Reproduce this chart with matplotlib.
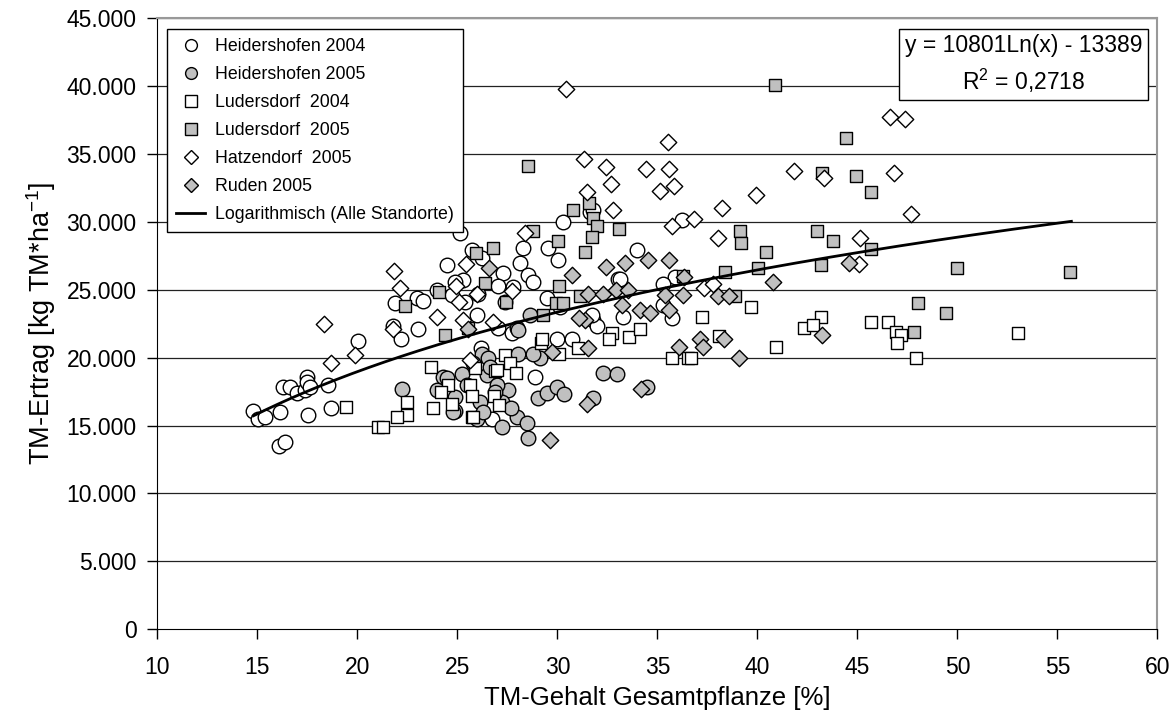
import numpy as np
import matplotlib
matplotlib.use("Agg")
import matplotlib.pyplot as plt
from matplotlib.lines import Line2D

plt.rcParams['font.family'] = ['Liberation Sans', 'DejaVu Sans']
plt.rcParams['mathtext.fontset'] = 'custom'
plt.rcParams['mathtext.rm'] = 'Liberation Sans'
plt.rcParams['mathtext.it'] = 'Liberation Sans'

# ----------------------- Data (TM-Gehalt %, TM-Ertrag kg/ha) -----------------------
heid04_x = [14.8, 15.05, 15.4, 16.15, 16.1, 16.4, 16.3, 16.65, 17.0, 17.4, 17.5, 17.5, 17.65, 17.55,
            18.55, 18.7, 20.05, 21.9, 21.8, 22.2, 23.05, 23.0, 23.3, 24.0, 24.5, 25.15, 28.3, 30.3,
            29.55, 30.05, 28.15, 28.55, 28.8, 25.3, 25.75, 26.25, 27.3, 27.05, 27.8, 24.9, 25.4, 26.0,
            26.05, 27.4, 29.5, 30.15, 31.65, 31.8, 33.05, 33.3, 34.0, 31.8, 36.25, 35.9, 35.3, 35.75,
            35.3, 27.05, 27.75, 24.75, 32.0, 30.0, 30.75, 28.9, 26.2, 26.75, 33.15, 31.75]
heid04_y = [16100, 15500, 15600, 16000, 13500, 13800, 17800, 17800, 17400, 17600, 18600, 18200, 17800, 15800,
            18000, 16300, 21200, 24000, 22300, 21400, 22100, 24400, 24200, 25000, 26800, 29200, 28100, 30000,
            28100, 27200, 27000, 26100, 25600, 25700, 27900, 27300, 26200, 25300, 25200, 25600, 24100, 23100,
            24700, 24100, 24400, 23700, 30700, 22800, 25800, 23000, 27900, 30900, 30100, 25900, 25400, 22900,
            23900, 22200, 21800, 24600, 22300, 21400, 21400, 18600, 20700, 15500, 25800, 23100]

heid05_x = [22.25, 24.3, 24.0, 25.25, 24.9, 26.0, 26.5, 27.25, 26.25, 26.55, 28.0, 28.65, 29.15, 32.3,
            33.0, 29.05, 29.5, 30.0, 30.35, 31.8, 34.5, 28.0, 28.5, 28.55, 27.55, 28.05, 28.8, 24.8,
            26.65, 27.25, 26.15, 26.3, 25.5, 24.9, 27.0, 27.7, 25.8, 26.9, 24.5, 28.05]
heid05_y = [17700, 18600, 17600, 18800, 16100, 15500, 18700, 14900, 20300, 20000, 22200, 23100, 20000, 18900,
            18800, 17000, 17400, 17800, 17300, 17000, 17800, 15600, 15200, 14100, 17600, 20300, 20300, 16000,
            19300, 16700, 16700, 16000, 18000, 17100, 18000, 16300, 19600, 17500, 18500, 22000]

luder04_x = [23.7, 22.5, 22.5, 22.0, 21.05, 21.3, 19.45, 23.8, 24.55, 24.2, 24.75, 25.65, 25.75, 25.75,
             25.9, 26.9, 26.85, 27.4, 27.65, 27.0, 27.95, 27.1, 25.8, 29.2, 29.25, 30.1, 31.05, 32.75,
             32.6, 33.6, 34.15, 35.75, 36.55, 37.25, 39.7, 38.1, 40.95, 36.7, 42.35, 43.2, 45.7, 46.55,
             46.95, 47.2, 47.0, 47.95, 42.8, 53.05]
luder04_y = [19300, 16700, 15800, 15600, 14900, 14900, 16400, 16300, 18000, 17500, 16600, 18000, 17200, 15600,
             19200, 19000, 17200, 20200, 19600, 19100, 18900, 16500, 15600, 21100, 21400, 20300, 20700, 21800,
             21400, 21500, 22100, 20000, 20000, 23000, 23700, 21600, 20800, 20000, 22200, 23000, 22600, 22600,
             21900, 21700, 21100, 20000, 22400, 21800]

luder05_x = [28.55, 40.9, 44.45, 43.25, 44.95, 45.7, 30.8, 31.6, 31.8, 32.0, 33.1, 31.75, 31.4, 30.05,
             28.8, 25.95, 26.8, 26.4, 24.1, 22.4, 27.45, 30.1, 29.95, 31.15, 25.55, 30.3, 29.3, 24.4,
             36.3, 39.15, 39.2, 40.45, 38.4, 40.05, 43.0, 43.8, 43.2, 45.7, 38.9, 48.05, 47.85, 50.0,
             55.65, 49.45]
luder05_y = [34100, 40100, 36200, 33600, 33400, 32200, 30900, 31400, 30300, 29700, 29500, 28900, 27800, 28600,
             29300, 27700, 28100, 25500, 24800, 23800, 24100, 25300, 24000, 24500, 22200, 24000, 23100, 21700,
             26000, 29300, 28400, 27800, 26300, 26600, 29300, 28600, 26800, 28000, 24500, 24000, 21900, 26600,
             26300, 23300]

hatz05_x = [21.85, 22.15, 18.35, 18.7, 19.9, 21.8, 24.0, 30.45, 35.55, 31.35, 32.45, 34.45, 35.6, 32.7,
            31.5, 35.15, 35.85, 32.8, 38.25, 35.75, 36.85, 28.4, 38.05, 46.65, 47.4, 41.85, 43.35, 46.85,
            39.95, 47.7, 45.15, 45.1, 37.35, 37.8, 25.45, 24.95, 26.0, 27.75, 25.1, 25.3, 25.65, 26.8]
hatz05_y = [26400, 25100, 22500, 19600, 20200, 22100, 23000, 39800, 35900, 34600, 34000, 33900, 33900, 32800,
            32200, 32300, 32600, 30900, 31000, 29700, 30200, 29200, 28800, 37700, 37600, 33700, 33200, 33600,
            32000, 30600, 28800, 26900, 25100, 25400, 26900, 25300, 24700, 24900, 24100, 22800, 19800, 22600]

ruden05_x = [26.6, 30.75, 32.45, 33.4, 34.55, 35.6, 31.55, 32.3, 32.95, 33.25, 34.15, 34.65, 35.6, 35.4,
             36.3, 31.4, 29.75, 31.55, 25.55, 34.2, 31.5, 29.65, 36.1, 36.35, 38.05, 38.6, 40.8, 37.15,
             37.3, 38.35, 39.1, 43.25, 44.6, 33.55, 31.1]
ruden05_y = [26600, 26100, 26700, 27000, 27200, 27200, 24700, 24700, 25000, 23900, 23500, 23300, 23500, 24600,
             24600, 22800, 20400, 20700, 22100, 17700, 16600, 13900, 20800, 25900, 24500, 24500, 25600, 21400,
             20800, 21400, 20000, 21700, 27000, 25000, 22900]

fit_a, fit_b = 10801, -13389
fit_range = (14.8, 55.7)

# ----------------------- Plot -----------------------
fig = plt.figure(figsize=(11.75, 7.2), dpi=100)
ax = fig.add_axes([0.134, 0.126, 0.851, 0.849])

gray = '#c0c0c0'
for yv in range(5000, 45001, 5000):
    ax.axhline(yv, color='#222222', lw=0.9, zorder=0)

kw = dict(edgecolors='black', linewidths=1.0, zorder=3)
ax.scatter(heid04_x, heid04_y, marker='o', s=110, facecolors='white', **kw)
ax.scatter(heid05_x, heid05_y, marker='o', s=110, facecolors=gray, **kw)
ax.scatter(luder04_x, luder04_y, marker='s', s=74, facecolors='white', **kw)
ax.scatter(luder05_x, luder05_y, marker='s', s=74, facecolors=gray, **kw)
ax.scatter(hatz05_x, hatz05_y, marker='D', s=70, facecolors='white', **kw)
ax.scatter(ruden05_x, ruden05_y, marker='D', s=70, facecolors=gray, **kw)

xf = np.linspace(fit_range[0], fit_range[1], 200)
ax.plot(xf, fit_a * np.log(xf) + fit_b, color='black', lw=2, zorder=4)

ax.set_xlim(10, 60)
ax.set_ylim(0, 45000)
ax.set_xticks(range(10, 61, 5))
ax.set_yticks(range(0, 45001, 5000))
ax.set_yticklabels([f"{v:,}".replace(",", ".") for v in range(0, 45001, 5000)])
ax.tick_params(axis='both', direction='out', length=7, width=1, labelsize=16.5, colors='black')
ax.tick_params(axis='x', pad=12)
ax.tick_params(axis='y', pad=8)
for s in ['left', 'bottom']:
    ax.spines[s].set_color('black')
for s in ['top', 'right']:
    ax.spines[s].set_color('#999999')
    ax.spines[s].set_linewidth(1.5)

ax.set_xlabel('TM-Gehalt Gesamtpflanze [%]', fontsize=18.5, labelpad=5)
ax.set_ylabel(r'TM-Ertrag [kg TM*ha$^{-1}$]', fontsize=19.5, labelpad=6)

def mk(marker, fc, ms):
    return Line2D([], [], ls='none', marker=marker, markerfacecolor=fc, markeredgecolor='black',
                  markersize=ms, markeredgewidth=1)

handles = [mk('o', 'white', 8.5), mk('o', gray, 8.5), mk('s', 'white', 8), mk('s', gray, 8),
           mk('D', 'white', 7), mk('D', gray, 7), Line2D([], [], color='black', lw=2)]
labels = ['Heidershofen 2004', 'Heidershofen 2005', 'Ludersdorf  2004', 'Ludersdorf  2005',
          'Hatzendorf  2005', 'Ruden 2005', 'Logarithmisch (Alle Standorte)']
leg = ax.legend(handles, labels, loc='upper left', bbox_to_anchor=(0.01, 0.982), borderaxespad=0,
                fontsize=12.8, fancybox=False, edgecolor='black', framealpha=1, handlelength=1.6,
                handletextpad=0.6, labelspacing=0.62, borderpad=0.5)
leg.get_frame().set_linewidth(1)
leg.set_zorder(6)

ax.text(0.866, 0.924, 'y = 10801Ln(x) - 13389\nR$^2$ = 0,2718', transform=ax.transAxes,
        ha='center', va='center', fontsize=16.5, linespacing=1.4, zorder=6,
        bbox=dict(boxstyle='square,pad=0.25', facecolor='white', edgecolor='black', lw=1))

fig.savefig('out.png', dpi=100)
